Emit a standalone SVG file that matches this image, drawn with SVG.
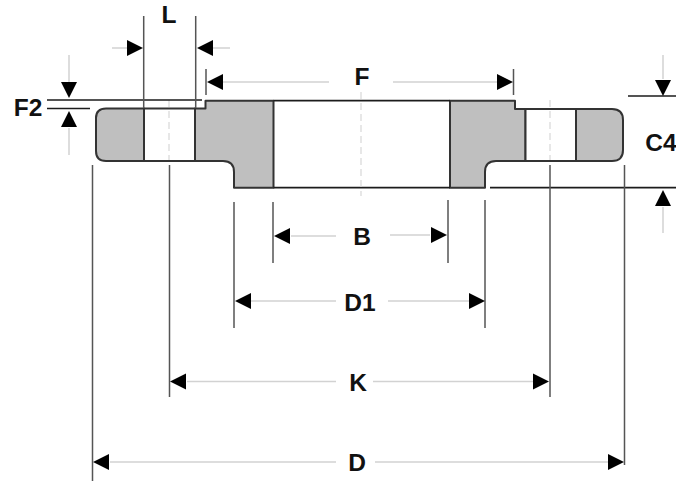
<svg xmlns="http://www.w3.org/2000/svg" xmlns:xlink="http://www.w3.org/1999/xlink" width="676" height="481" viewBox="0 0 676 481">
<style>
.body{fill:#bfbfbf;stroke:#333;stroke-width:2;stroke-linejoin:round}
.hole{fill:#fff;stroke:#333;stroke-width:2}
.edge{fill:none;stroke:#1c1c1c;stroke-width:1.7}
.ext{fill:none;stroke:#555;stroke-width:1.5}
.dim{fill:none;stroke:#d2d2d2;stroke-width:1.5}
.ctr{fill:none;stroke:#d8d8d8;stroke-width:1.2;stroke-dasharray:7 4}
.lab{font-family:"Liberation Sans",Arial,sans-serif;font-weight:700;font-size:24.5px;fill:#111;text-anchor:middle}
.ah{fill:#000}
</style>
<defs>
<polygon id="r" class="ah" points="0,0 -16,-8 -16,8"/>
<polygon id="l" class="ah" points="0,0 16,-8 16,8"/>
<polygon id="d" class="ah" points="0,0 -8,-16 8,-16"/>
<polygon id="u" class="ah" points="0,0 -8,16 8,16"/>
</defs>
<rect width="676" height="481" fill="#fff"/>
<g id="flange">
<path class="body" d="M144,108.5H106Q96,108.5 96,118V151Q96,161 106,161H144Z"/>
<path class="body" d="M195,108.5H205.500V100.700H273.500V187.700H234V172Q234,161 223,161H195Z"/>
<path class="body" d="M450,100.700H515V109H525.500V161H496Q485,161 485,172V187.700H450Z"/>
<path class="body" d="M576,109H612Q623,109 623,120V150Q623,161 612,161H576Z"/>
<rect class="hole" x="144" y="108.500" width="51" height="52.500"/>
<rect class="hole" x="525.500" y="109" width="50.500" height="52"/>
<path class="edge" d="M273.500,100.700H450M273.500,187.700H450"/>
</g>
<g id="connectors">
<path class="ctr" d="M169,100V160M361,92V196M550,100V160"/>
<path class="edge" d="M47,100H202M47,108.500H90M490,187.700H676M628,96H676"/>
<path class="ext" d="M143.700,16V108M195.700,16V108M206,69V95M513.500,69V95M92.500,165V481M169.500,165V397M550,165V397M624.500,165V465M234,202V328M485,200V328M273,202V263M448,200V263"/>
<path class="dim" d="M112,48H127M212,48H230M223,82H329M393,82H497M69,55V82M69,128V155M663,55V79M663,207V233M291,236H336M390,235H430M250,301H336M388,301H470M187,381.500H336M373,381.500H533M110,462H336M375,462H608"/>
<use xlink:href="#r" href="#r" x="143" y="48"/>
<use xlink:href="#l" href="#l" x="197" y="48"/>
<use xlink:href="#l" href="#l" x="207" y="82"/>
<use xlink:href="#r" href="#r" x="513" y="82"/>
<use xlink:href="#d" href="#d" x="69" y="98"/>
<use xlink:href="#u" href="#u" x="69" y="111"/>
<use xlink:href="#d" href="#d" x="663" y="96"/>
<use xlink:href="#u" href="#u" x="663" y="190"/>
<use xlink:href="#l" href="#l" x="274" y="236"/>
<use xlink:href="#r" href="#r" x="447" y="235"/>
<use xlink:href="#l" href="#l" x="235" y="301"/>
<use xlink:href="#r" href="#r" x="485" y="301"/>
<use xlink:href="#l" href="#l" x="170" y="381.500"/>
<use xlink:href="#r" href="#r" x="549" y="381.500"/>
<use xlink:href="#l" href="#l" x="93" y="462"/>
<use xlink:href="#r" href="#r" x="624" y="462"/>
</g>
<g id="labels">
<text class="lab" x="169" y="23">L</text>
<text class="lab" x="362" y="85">F</text>
<text class="lab" x="28" y="116">F2</text>
<text class="lab" x="661" y="151">C4</text>
<text class="lab" x="362" y="245">B</text>
<text class="lab" x="360" y="311">D1</text>
<text class="lab" x="358" y="391">K</text>
<text class="lab" x="357" y="471">D</text>
</g>
</svg>
